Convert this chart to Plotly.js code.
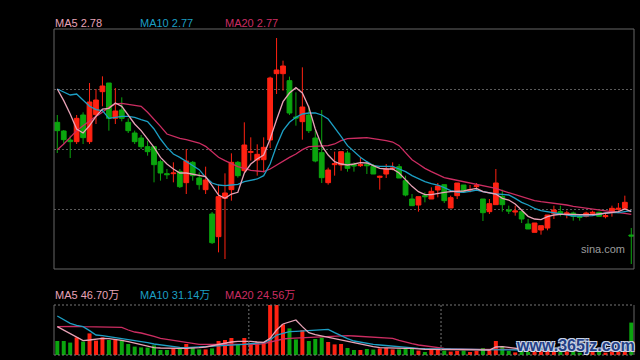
<!DOCTYPE html>
<html><head><meta charset="utf-8">
<script src="https://cdn.plot.ly/plotly-3.0.1.min.js"></script>
<style>html,body{margin:0;padding:0;background:#000;}#chart{width:640px;height:360px;}</style>
</head><body><div id="chart"></div>
<script>
const open  = [3.040,3.014,2.987,2.982,3.062,2.982,3.063,3.132,3.158,3.052,3.077,3.040,3.008,2.993,2.967,2.967,2.922,2.886,2.886,2.893,2.859,2.920,2.873,2.838,2.765,2.697,2.812,2.838,2.920,2.895,2.950,2.927,2.928,2.987,3.186,3.186,3.165,3.056,3.042,3.062,2.993,2.949,2.859,2.913,2.912,2.948,2.913,2.910,2.913,2.908,2.875,2.885,2.900,2.907,2.865,2.810,2.792,2.820,2.810,2.837,2.853,2.783,2.820,2.852,2.835,2.847,2.810,2.772,2.793,2.818,2.777,2.771,2.772,2.735,2.710,2.717,2.723,2.767,2.772,2.765,2.768,2.758,2.758,2.767,2.770,2.757,2.770,2.779,2.782,2.702];
const high  = [3.062,3.017,3.000,3.062,3.070,3.158,3.140,3.178,3.158,3.143,3.115,3.052,3.015,3.002,2.985,2.967,2.928,2.900,2.920,2.900,2.960,2.924,2.890,2.907,2.771,2.854,2.887,2.947,2.924,3.040,2.995,2.974,2.995,3.177,3.293,3.225,3.177,3.130,3.205,3.090,3.015,3.077,2.904,2.952,2.952,2.955,2.920,2.934,2.920,2.915,2.880,2.915,2.920,2.915,2.880,2.825,2.817,2.830,2.845,2.858,2.853,2.820,2.858,2.852,2.852,2.858,2.810,2.810,2.900,2.838,2.790,2.790,2.772,2.750,2.738,2.730,2.762,2.790,2.790,2.775,2.772,2.765,2.772,2.775,2.772,2.765,2.790,2.798,2.820,2.723];
const low   = [2.948,2.975,2.933,2.975,2.975,2.975,3.035,3.088,3.015,3.035,3.043,3.008,2.975,2.960,2.940,2.860,2.865,2.870,2.860,2.843,2.825,2.865,2.838,2.825,2.675,2.650,2.630,2.805,2.874,2.890,2.925,2.880,2.890,2.963,3.125,3.135,3.062,3.030,2.988,3.008,2.920,2.858,2.853,2.880,2.895,2.892,2.892,2.906,2.885,2.885,2.838,2.873,2.896,2.873,2.818,2.790,2.772,2.800,2.810,2.815,2.798,2.783,2.810,2.828,2.830,2.835,2.744,2.765,2.793,2.772,2.765,2.760,2.738,2.720,2.710,2.703,2.716,2.750,2.758,2.752,2.745,2.745,2.755,2.760,2.758,2.752,2.757,2.775,2.778,2.615];
const close = [3.015,2.988,2.982,3.052,2.994,3.101,3.107,3.149,3.052,3.074,3.052,3.015,2.982,2.967,2.952,2.913,2.888,2.883,2.888,2.847,2.924,2.880,2.853,2.867,2.679,2.817,2.828,2.920,2.880,2.972,2.952,2.944,2.965,3.173,3.197,3.209,3.068,3.053,3.086,3.015,2.924,2.874,2.897,2.916,2.952,2.902,2.909,2.913,2.910,2.885,2.878,2.900,2.903,2.873,2.822,2.790,2.817,2.817,2.833,2.849,2.805,2.814,2.858,2.833,2.838,2.850,2.769,2.796,2.858,2.793,2.774,2.774,2.750,2.720,2.738,2.730,2.762,2.777,2.765,2.768,2.758,2.755,2.768,2.770,2.758,2.760,2.782,2.782,2.800,2.699];
const ma5   = [3.140,3.105,3.065,3.020,3.008,3.030,3.058,3.080,3.082,3.098,3.088,3.062,3.035,3.015,2.990,2.965,2.935,2.915,2.900,2.888,2.888,2.885,2.880,2.877,2.850,2.822,2.812,2.825,2.830,2.888,2.915,2.930,2.942,2.990,3.048,3.102,3.128,3.144,3.128,3.085,3.020,2.970,2.942,2.922,2.915,2.912,2.915,2.919,2.918,2.910,2.902,2.900,2.900,2.888,2.868,2.848,2.832,2.823,2.823,2.827,2.830,2.832,2.832,2.834,2.838,2.842,2.832,2.829,2.825,2.812,2.807,2.795,2.775,2.758,2.750,2.748,2.757,2.762,2.764,2.765,2.764,2.763,2.762,2.763,2.765,2.767,2.770,2.772,2.780,2.772];
const ma10  = [3.140,3.130,3.122,3.125,3.108,3.088,3.078,3.075,3.052,3.055,3.058,3.058,3.055,3.048,3.042,3.020,2.990,2.965,2.945,2.935,2.922,2.910,2.898,2.875,2.858,2.852,2.850,2.852,2.854,2.862,2.865,2.870,2.880,2.915,2.970,3.015,3.040,3.055,3.065,3.068,3.068,3.062,3.050,3.025,2.998,2.970,2.952,2.935,2.922,2.910,2.908,2.908,2.908,2.900,2.892,2.880,2.870,2.862,2.856,2.852,2.844,2.835,2.831,2.830,2.833,2.837,2.832,2.828,2.825,2.824,2.822,2.812,2.800,2.792,2.782,2.775,2.772,2.770,2.767,2.762,2.759,2.759,2.759,2.760,2.764,2.768,2.769,2.769,2.772,2.775];
const ma20  = [2.958,2.975,2.995,3.015,3.030,3.045,3.058,3.070,3.085,3.095,3.097,3.094,3.092,3.088,3.070,3.050,3.028,3.005,2.998,2.992,2.988,2.983,2.978,2.968,2.950,2.935,2.925,2.915,2.907,2.902,2.896,2.894,2.892,2.900,2.912,2.924,2.935,2.945,2.958,2.967,2.968,2.969,2.970,2.975,2.985,2.991,2.993,2.993,2.994,2.992,2.988,2.985,2.981,2.970,2.950,2.928,2.915,2.902,2.892,2.882,2.874,2.870,2.866,2.862,2.859,2.856,2.852,2.847,2.842,2.835,2.829,2.822,2.815,2.810,2.805,2.802,2.800,2.797,2.794,2.792,2.788,2.785,2.782,2.780,2.777,2.774,2.771,2.769,2.767,2.764];
const volume = [70,70,62,88,67,108,72,88,75,78,75,55,42,38,37,48,25,25,33,30,55,37,28,28,33,70,75,85,50,85,58,65,65,250,250,153,133,78,125,70,80,87,65,53,55,35,25,25,30,27,33,35,28,28,33,30,22,15,25,28,22,17,20,22,15,20,35,25,70,45,20,13,22,15,18,18,20,20,15,18,18,12,12,15,22,12,18,17,25,162];
const volMa5  = [141.7,125,108.3,88.3,71.7,75,78.3,83.3,81.7,78.3,73.3,66.7,58.3,50,43.3,36.7,35,33.3,33.3,33.3,33.3,33.3,36.7,40,46.7,55,60,65,68.3,70,68.3,65,63.3,83.3,125,155,166.7,175,141.7,111.7,101.7,95,86.7,78.3,71.7,66.7,58.3,51.7,45,41.7,36.7,35,33.3,33.3,33.3,33.3,30,28.3,28.3,28.3,28.3,26.7,26.7,26.7,25,25,25,25,40,41.7,38.3,33.3,30,25,23.3,21.7,21.7,21.7,21.7,21.7,20,20,18.3,18.3,18.3,18.3,20,20,21.7,21.7];
const volMa10 = [195,175,158.3,148.3,141.7,121.7,100,96.7,91.7,88.3,83.3,80,75,68.3,61.7,55,50,45,41.7,38.3,36.7,38.3,40,43.3,45,46.7,48.3,50,51.7,53.3,56.7,60,61.7,75,100,108.3,116.7,118.3,120,121.7,125,126.7,128.3,111.7,95,81.7,70,63.3,58.3,53.3,50,46.7,45,41.7,38.3,35,33.3,31.7,31.7,30,30,30,30,28.3,28.3,28.3,26.7,26.7,28.3,28.3,28.3,28.3,26.7,26.7,25,25,25,23.3,23.3,23.3,23.3,21.7,21.7,21.7,21.7,21.7,21.7,21.7,21.7,21.7];
const volMa20 = [141.7,143.3,145,143.3,141.7,141.7,141.7,141.7,140,140,138.3,125,115,110,103.3,93.3,83.3,78.3,75,68.3,61.7,56.7,53.3,53.3,53.3,53.3,53.3,51.7,51.7,50,50,53.3,56.7,65,75,80,83.3,85,88.3,90,91.7,91.7,91.7,95,98.3,96.7,95,93.3,91.7,90,88.3,86.7,83.3,73.3,63.3,56.7,50,45,41.7,36.7,33.3,31.7,30,30,28.3,28.3,28.3,28.3,30,30,30,30,30,28.3,28.3,28.3,28.3,26.7,26.7,26.7,26.7,26.7,26.7,25,25,25,25,25,25,25];
const labelsTop = ['MA5 2.78','MA10 2.77','MA20 2.77'];
const labelsVol = ['MA5 46.70万','MA10 31.14万','MA20 24.56万'];

const days = open.map((_, i) => i + 1);
const RED = '#ff2212', GREEN = '#0ba50e';
const C5 = '#e9a3b7', C10 = '#1c9fc4', C20 = '#cc2d62';
const volColors = close.map((c, i) => c >= open[i] ? RED : GREEN);

const traces = [
  {type:'candlestick', x:days, open:open, high:high, low:low, close:close, xaxis:'x', yaxis:'y',
   increasing:{line:{color:RED,width:1}, fillcolor:RED},
   decreasing:{line:{color:GREEN,width:1}, fillcolor:GREEN},
   whiskerwidth:0, hoverinfo:'skip'},
  {type:'scatter', mode:'lines', x:days, y:ma20, line:{color:C20,width:1.3}, xaxis:'x', yaxis:'y', hoverinfo:'skip'},
  {type:'scatter', mode:'lines', x:days, y:ma10, line:{color:C10,width:1.3}, xaxis:'x', yaxis:'y', hoverinfo:'skip'},
  {type:'scatter', mode:'lines', x:days, y:ma5, line:{color:C5,width:1.3}, xaxis:'x', yaxis:'y', hoverinfo:'skip'},
  {type:'bar', x:days, y:volume, marker:{color:volColors, line:{width:0}}, width:0.62, xaxis:'x2', yaxis:'y2', hoverinfo:'skip'},
  {type:'scatter', mode:'lines', x:days, y:volMa20, line:{color:C20,width:1.3}, xaxis:'x2', yaxis:'y2', hoverinfo:'skip'},
  {type:'scatter', mode:'lines', x:days, y:volMa10, line:{color:C10,width:1.3}, xaxis:'x2', yaxis:'y2', hoverinfo:'skip'},
  {type:'scatter', mode:'lines', x:days, y:volMa5, line:{color:C5,width:1.3}, xaxis:'x2', yaxis:'y2', hoverinfo:'skip'}
];

const FONT = 'Liberation Sans, Arial, Noto Sans CJK SC, sans-serif';
const GRID = '#5a5a5a', BORDER = '#676767';
const PH = 326;
function py(Y){ return (355 - Y) / PH; }
function px(X){ return (X - 54) / 580; }
const labelColors = [C5, C10, C20];
const labelX = [53, 138, 223];
const annotations = [];
labelsTop.forEach((t, i) => annotations.push({text:t, xref:'paper', yref:'paper', x:px(labelX[i]), y:py(23), xanchor:'left', yanchor:'middle', showarrow:false, font:{family:FONT,size:11,color:labelColors[i]}}));
labelsVol.forEach((t, i) => annotations.push({text:t, xref:'paper', yref:'paper', x:px(labelX[i]), y:py(295), xanchor:'left', yanchor:'middle', showarrow:false, font:{family:FONT,size:11,color:labelColors[i]}}));
annotations.push({text:'sina.com', xref:'paper', yref:'paper', x:px(579), y:py(249), xanchor:'left', yanchor:'middle', showarrow:false, font:{family:FONT,size:11,color:'#9c9c9c'}});
annotations.push({text:'www.365jz.com', xref:'paper', yref:'paper', x:px(575), y:py(345), xanchor:'center', yanchor:'middle', showarrow:false,
  font:{family:FONT,size:16,color:'#233f86',weight:'bold',shadow:'1px 1px 0 #c9d3e6, -1px -1px 0 #c9d3e6, 1px -1px 0 #c9d3e6, -1px 1px 0 #c9d3e6'}});

const shapes = [
  {type:'rect', xref:'x domain', yref:'y domain', x0:0, x1:1, y0:0, y1:1, line:{color:BORDER,width:1}},
  {type:'line', xref:'x2 domain', yref:'y2 domain', x0:0, x1:0, y0:0, y1:1, line:{color:BORDER,width:1}},
  {type:'line', xref:'x2 domain', yref:'y2 domain', x0:1, x1:1, y0:0, y1:1, line:{color:BORDER,width:1}},
  {type:'line', xref:'x2 domain', yref:'y2 domain', x0:0, x1:1, y0:1, y1:1, line:{color:'#777',width:1,dash:'2px,2px'}},
  {type:'line', xref:'x2 domain', yref:'y2 domain', x0:0, x1:1, y0:0, y1:0, line:{color:'#777',width:1,dash:'2px,2px'}},
  {type:'line', xref:'x2', yref:'y2 domain', x0:30.7, x1:30.7, y0:0, y1:1, line:{color:'#777',width:1,dash:'2px,2px'}},
  {type:'line', xref:'x2', yref:'y2 domain', x0:60.5, x1:60.5, y0:0, y1:1, line:{color:'#777',width:1,dash:'2px,2px'}}
];

const layout = {
  width:640, height:360, paper_bgcolor:'#000', plot_bgcolor:'#000',
  margin:{l:54, r:6, t:29, b:5}, showlegend:false,
  boxgap:0.26, boxgroupgap:0,
  xaxis:{domain:[0,1], anchor:'y', range:[0.49,90.42], showgrid:false, zeroline:false, showticklabels:false, ticks:'', showline:false, rangeslider:{visible:false}},
  yaxis:{domain:[py(269),1], anchor:'x', range:[2.60,3.32], tickvals:[2.78,2.96,3.14], showticklabels:false, ticks:'', gridcolor:GRID, griddash:'2px,2px', gridwidth:1, zeroline:false, showline:false},
  xaxis2:{domain:[0,1], anchor:'y2', matches:'x', range:[0.49,90.42], showgrid:false, zeroline:false, showticklabels:false, ticks:'', showline:false},
  yaxis2:{domain:[0,py(305)], anchor:'x2', range:[0,250], showgrid:false, zeroline:false, showticklabels:false, ticks:'', showline:false},
  annotations:annotations, shapes:shapes, font:{family:FONT}
};
Plotly.newPlot('chart', traces, layout, {staticPlot:true, displayModeBar:false});
</script></body></html>
